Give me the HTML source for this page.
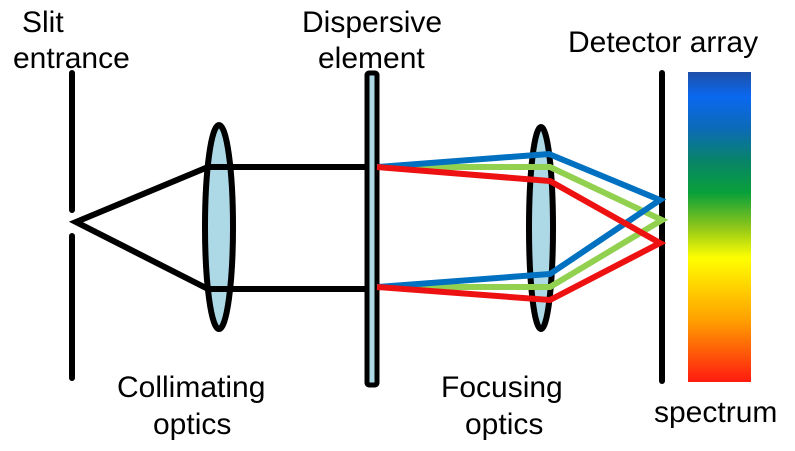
<!DOCTYPE html>
<html><head><style>html,body{margin:0;padding:0;background:#fff;}svg{display:block}</style></head>
<body>
<svg width="795" height="451" viewBox="0 0 795 451" xmlns="http://www.w3.org/2000/svg">
<defs>
<linearGradient id="sp" x1="0" y1="0" x2="0" y2="1">
<stop offset="0" stop-color="#1f4fa8"/>
<stop offset="0.08" stop-color="#0a68f0"/>
<stop offset="0.18" stop-color="#0c6ab8"/>
<stop offset="0.29" stop-color="#088566"/>
<stop offset="0.39" stop-color="#09a03a"/>
<stop offset="0.5" stop-color="#8ec61a"/>
<stop offset="0.6" stop-color="#ffff00"/>
<stop offset="0.8" stop-color="#ffa000"/>
<stop offset="1" stop-color="#ff1a10"/>
</linearGradient>
</defs>
<g font-family="Liberation Sans, sans-serif" font-size="30" fill="#000">
<text x="22" y="32">Slit</text>
<text x="13" y="68">entrance</text>
<text x="302" y="32">Dispersive</text>
<text x="318" y="68">element</text>
<text x="568" y="52">Detector array</text>
<text x="117" y="397">Collimating</text>
<text x="153" y="434">optics</text>
<text x="441" y="397">Focusing</text>
<text x="465" y="434">optics</text>
<text x="654" y="422">spectrum</text>
</g>
<g stroke="#000" stroke-width="6" stroke-linecap="round" fill="none">
<line x1="72" y1="73" x2="72" y2="210"/>
<line x1="72" y1="236" x2="72" y2="378"/>
<line x1="662" y1="73" x2="662" y2="381"/>
</g>
<ellipse cx="219" cy="227" rx="14" ry="102" fill="#add8e6" stroke="#000" stroke-width="6"/>
<polyline points="208,167 76,222 208,289" fill="none" stroke="#000" stroke-width="6" stroke-linejoin="miter"/>
<line x1="208" y1="167" x2="372" y2="167" stroke="#000" stroke-width="6"/>
<line x1="208" y1="289" x2="372" y2="289" stroke="#000" stroke-width="6"/>
<rect x="367" y="73" width="10" height="312" rx="2" fill="#add8e6" stroke="#000" stroke-width="5"/>
<ellipse cx="541" cy="228" rx="12" ry="101" fill="#add8e6" stroke="#000" stroke-width="6"/>
<g fill="none" stroke-width="6" stroke-linejoin="miter">
<polyline points="377,167 550,167 662,220 550,287 377,287" stroke="#92d050"/>
<polyline points="377,167 549,154 660,200 550,274 377,287" stroke="#0070c0"/>
<polyline points="377,167 550,181 660,243 550,300 377,287" stroke="#ee1111"/>
</g>
<rect x="688" y="72" width="63" height="310" fill="url(#sp)"/>
</svg>
</body></html>
